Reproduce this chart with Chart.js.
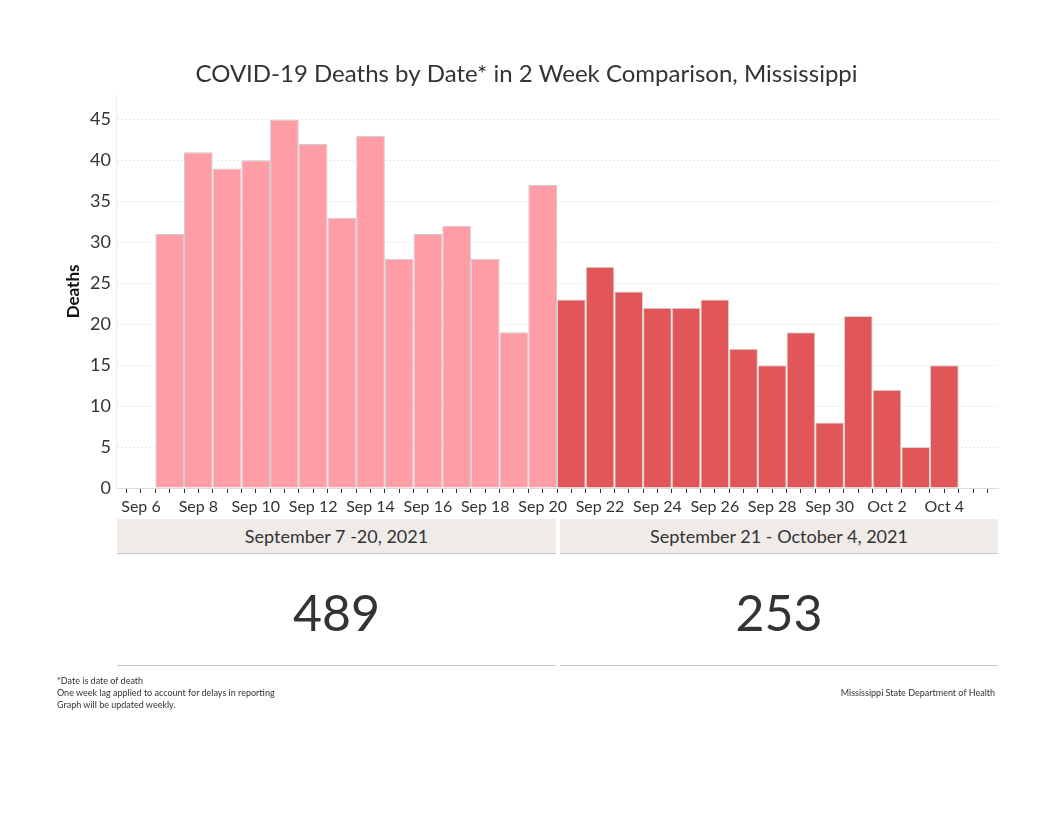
<!DOCTYPE html>
<html>
<head>
<meta charset="utf-8">
<script src="https://cdn.jsdelivr.net/npm/chart.js@4"></script>
<style>
  body { margin: 0; background: #fff; font-family: Lato, sans-serif; color: #333; }
  #wrap { position: relative; width: 1053px; height: 813px; }
  canvas { position: absolute; left: 0; top: 0; }
  .band { position: absolute; top: 519px; height: 34px; background: #efebe9; border-bottom: 1px solid #c8c8c8;
          font-size: 18px; line-height: 34px; text-align: center; color: #333; }
  .total { position: absolute; top: 582px; font-size: 50px; line-height: 60px; text-align: center; color: #333; }
  .rule { position: absolute; top: 665px; height: 0; border-top: 1px solid #c8c8c8; }
  .note { position: absolute; font-size: 9px; line-height: 12px; color: #333; }
</style>
</head>
<body>
<div id="wrap">
  <canvas id="deathsChart" width="1053" height="813"></canvas>
  <div class="band" style="left:117px;width:439px" id="band1"></div>
  <div class="band" style="left:560px;width:438px" id="band2"></div>
  <div class="total" style="left:117px;width:439px" id="total1"></div>
  <div class="total" style="left:560px;width:438px" id="total2"></div>
  <div class="rule" style="left:117px;width:439px"></div>
  <div class="rule" style="left:560px;width:438px"></div>
  <div class="note" style="left:57px;top:675px">*Date is date of death<br>One week lag applied to account for delays in reporting<br>Graph will be updated weekly.</div>
  <div class="note" style="right:58px;top:687px">Mississippi State Department of Health</div>
</div>
<script>
// Sep 7 - Sep 20 and Sep 21 - Oct 4
const periods = ['September 7 -20, 2021', 'September 21 - October 4, 2021']
const dates1 = ['Sep 7','Sep 8','Sep 9','Sep 10','Sep 11','Sep 12','Sep 13','Sep 14','Sep 15','Sep 16','Sep 17','Sep 18','Sep 19','Sep 20']
const dates2 = ['Sep 21','Sep 22','Sep 23','Sep 24','Sep 25','Sep 26','Sep 27','Sep 28','Sep 29','Sep 30','Oct 1','Oct 2','Oct 3','Oct 4']
const deaths1 = [31, 41, 39, 40, 45, 42, 33, 43, 28, 31, 32, 28, 19, 37]
const deaths2 = [23, 27, 24, 22, 22, 23, 17, 15, 19, 8, 21, 12, 5, 15]
const tickLabels = ['Sep 6','Sep 8','Sep 10','Sep 12','Sep 14','Sep 16','Sep 18','Sep 20','Sep 22','Sep 24','Sep 26','Sep 28','Sep 30','Oct 2','Oct 4']

// x = day number counted from Sep 6
const points1 = deaths1.map((v, i) => ({ x: i + 1, y: v }))
const points2 = deaths2.map((v, i) => ({ x: i + 15, y: v }))

const sum = arr => arr.reduce((a, b) => a + b, 0)
document.getElementById('band1').textContent = periods[0]
document.getElementById('band2').textContent = periods[1]
document.getElementById('total1').textContent = sum(deaths1)
document.getElementById('total2').textContent = sum(deaths2)

// half-day ticks make the minimum gap half a day, so barPercentage 2 = one full day
const ctx = document.getElementById('deathsChart').getContext('2d')
new Chart(ctx, {
  type: 'bar',
  data: {
    datasets: [{
      label: periods[0],
      data: points1,
      backgroundColor: '#ff9da7',
      borderColor: '#cccccc',
      borderWidth: 1,
      grouped: false,
      barPercentage: 2,
      categoryPercentage: 1
    }, {
      label: periods[1],
      data: points2,
      backgroundColor: '#e15759',
      borderColor: '#d6d6d6',
      borderWidth: 1,
      grouped: false,
      barPercentage: 2,
      categoryPercentage: 1
    }]
  },
  options: {
    responsive: false,
    animation: false,
    layout: {
      padding: { top: 60, left: 55, right: 55, bottom: 295 }
    },
    plugins: {
      legend: { display: false },
      tooltip: { enabled: false },
      title: {
        display: true,
        text: 'COVID-19 Deaths by Date* in 2 Week Comparison, Mississippi',
        color: '#333',
        font: { family: 'Lato', size: 24, weight: 'normal' },
        padding: { top: 0, bottom: 6 }
      }
    },
    scales: {
      x: {
        type: 'linear',
        offset: false,
        min: -0.87,
        max: 29.87,
        afterFit: scale => { scale.height = 30 },
        grid: { offset: false, drawOnChartArea: false, tickLength: 5, color: '#333' },
        border: { color: '#dddddd' },
        ticks: {
          stepSize: 0.5,
          includeBounds: false,
          autoSkip: false,
          maxRotation: 0,
          padding: 4,
          color: '#333',
          font: { family: 'Lato', size: 16 },
          callback: v => (Number.isInteger(v) && v % 2 === 0 && v >= 0) ? tickLabels[v / 2] : ''
        }
      },
      y: {
        min: 0,
        max: 48,
        afterFit: scale => { scale.width = 61 },
        grid: { color: '#e8e8e8', drawTicks: false },
        border: { color: '#eeeeee', dash: [2, 2] },
        ticks: {
          stepSize: 5,
          includeBounds: false,
          padding: 5,
          color: '#333',
          font: { family: 'Lato', size: 18 }
        },
        title: {
          display: true,
          text: 'Deaths',
          color: '#111',
          font: { family: 'Lato', size: 17, weight: 'bold' },
          padding: { top: 8, bottom: 0 }
        }
      }
    }
  }
})
</script>
</body>
</html>
